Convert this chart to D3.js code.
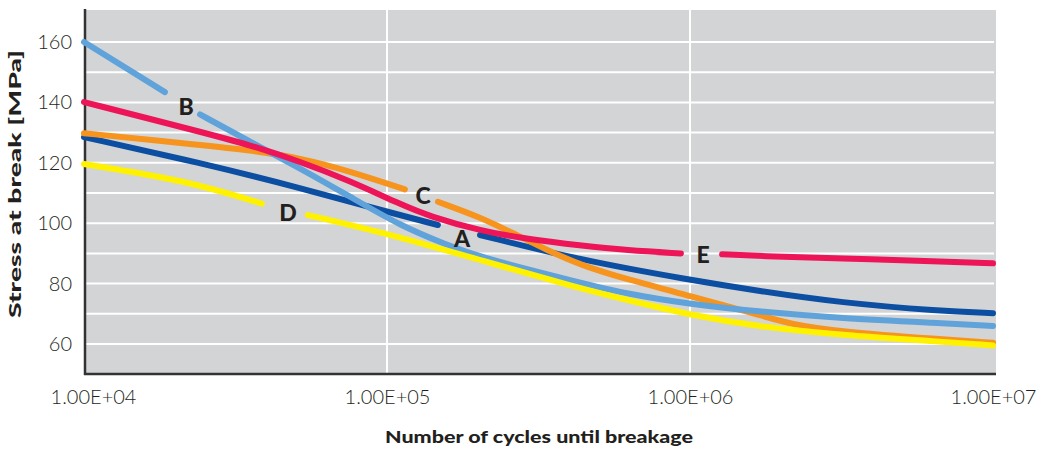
<!DOCTYPE html>
<html><head><meta charset="utf-8">
<script src="https://cdn.jsdelivr.net/npm/d3@7/dist/d3.min.js"></script>
<style>body{margin:0;background:#fff}svg{display:block}</style>
</head><body><svg id="c" width="1038" height="450"></svg>
<script>
// ---- data (x = log10 of number of cycles, y = stress in MPa; null = gap for label) ----
const xTicks = [1e4, 1e5, 1e6, 1e7];
const xTickLabels = ["1.00E+04", "1.00E+05", "1.00E+06", "1.00E+07"];
const yTicks = [60, 80, 100, 120, 140, 160];
const yGrid = [60, 70, 80, 90, 100, 110, 120, 130, 140, 150, 160];

const seriesA = [[4.0,128.5],[4.383,120.0],[4.713,111.7],[4.977,104.4],[5.168,99.4],null,
  [5.307,96.1],[5.637,87.8],[6.0,81.2],[6.231,77.5],[6.495,73.7],[6.825,70.9],[7.0,70.2]];
const seriesB = [[4.0,160.0],[4.267,143.4],null,[4.383,136.0],[4.548,127.0],[4.713,118.2],[4.878,108.8],
  [5.043,99.2],[5.198,92.8],[5.307,88.7],[5.637,80.3],[5.792,76.6],[6.0,73.2],[6.231,70.7],[6.495,68.5],[6.825,66.9],[7.0,66.0]];
const seriesC = [[4.0,129.8],[4.33,126.5],[4.548,124.2],[4.713,121.6],[4.878,117.2],[5.059,111.2],null,
  [5.168,107.1],[5.307,102.0],[5.416,96.7],[5.528,91.1],[5.637,86.2],[5.792,81.4],[6.0,75.9],[6.231,69.6],[6.33,66.6],[6.495,64.1],[6.825,61.6],[7.0,60.4]];
const seriesD = [[4.0,119.6],[4.33,114.3],[4.587,106.5],null,[4.739,102.7],[5.043,95.5],[5.307,87.8],[5.637,78.4],
  [5.792,74.6],[6.0,69.6],[6.231,65.7],[6.495,63.0],[6.825,60.8],[7.0,59.5]];
const seriesE = [[4.0,140.1],[4.383,130.3],[4.548,125.9],[4.713,120.4],[4.878,114.0],[5.043,106.3],
  [5.142,102.2],[5.307,97.5],[5.472,94.6],[5.637,92.6],[5.792,91.0],[5.97,90.0],null,
  [6.106,89.7],[6.231,89.1],[6.495,88.4],[6.825,87.3],[7.0,86.7]];

const seriesNames = ["A", "C", "B", "D", "E"];
const seriesData = [seriesA, seriesC, seriesB, seriesD, seriesE];
const seriesColors = ["#0b4ea2", "#f7941d", "#60a3da", "#fff200", "#ed1558"];
// label anchors in data units [log10 N, MPa]
const labelAnchors = {A:[5.248,95.1], B:[4.337,138.8], C:[5.119,109.3], D:[4.673,103.7], E:[6.043,89.8]};

// ---- drawing ----
const svg = d3.select("#c");
const x = d3.scaleLog().domain([1e4, 1e7]).range([84, 993]);
const y = d3.scaleLinear().domain([50, 170]).range([374.2, 11.8]);
const X = l => x(Math.pow(10, l));

svg.append("rect").attr("x", 84).attr("y", 10).attr("width", 912).attr("height", 364).attr("fill", "#d3d4d6");

svg.append("g").selectAll("line").data(yGrid).join("line")
  .attr("x1", 86).attr("x2", 994).attr("y1", d => y(d)).attr("y2", d => y(d))
  .attr("stroke", "#fff").attr("stroke-width", 2);
svg.append("g").selectAll("line").data([1e5, 1e6]).join("line")
  .attr("x1", d => x(d)).attr("x2", d => x(d)).attr("y1", 10).attr("y2", 373)
  .attr("stroke", "#fff").attr("stroke-width", 2);

// axes
const yAxis = d3.axisLeft(y).tickValues(yTicks).tickSize(0).tickPadding(13);
const gy = svg.append("g").attr("transform", "translate(85,0)").call(yAxis);
gy.select(".domain").remove();
gy.selectAll("text").attr("font-family", "Lato").attr("font-weight", 300)
  .attr("font-size", 20).attr("fill", "#231f20");

const xAxis = d3.axisBottom(x).tickValues(xTicks).tickFormat((d, i) => xTickLabels[i]).tickSize(0).tickPadding(16);
const gx = svg.append("g").attr("transform", "translate(0,374)").call(xAxis);
gx.select(".domain").remove();
gx.selectAll("text").attr("font-family", "Lato").attr("font-weight", 300)
  .attr("font-size", 20).attr("fill", "#231f20")
  .attr("dx", (d, i) => i === 0 ? 9 : 0);

svg.append("line").attr("x1", 85).attr("x2", 85).attr("y1", 9).attr("y2", 375)
  .attr("stroke", "#333").attr("stroke-width", 2.5);
svg.append("line").attr("x1", 84).attr("x2", 996).attr("y1", 374).attr("y2", 374)
  .attr("stroke", "#333").attr("stroke-width", 2.5);

// series lines
const line = d3.line().defined(d => d !== null).x(d => X(d[0])).y(d => y(d[1])).curve(d3.curveBasis);
svg.append("g").selectAll("path").data(seriesData).join("path")
  .attr("d", d => line(d)).attr("fill", "none")
  .attr("stroke", (d, i) => seriesColors[i]).attr("stroke-width", 6)
  .attr("stroke-linecap", "round").attr("stroke-linejoin", "round");

// series labels
svg.append("g").selectAll("text").data(seriesNames).join("text")
  .attr("x", d => X(labelAnchors[d][0])).attr("y", d => y(labelAnchors[d][1]))
  .attr("text-anchor", "middle").attr("dominant-baseline", "central")
  .attr("font-family", "Lato").attr("font-weight", 900).attr("font-size", 23)
  .attr("fill", "#231f20").text(d => d);

// axis titles
svg.append("text").attr("x", 539).attr("y", 443).attr("text-anchor", "middle")
  .attr("font-family", "Lato").attr("font-weight", 900).attr("font-size", 17)
  .attr("textLength", 308).attr("lengthAdjust", "spacingAndGlyphs")
  .attr("fill", "#231f20").text("Number of cycles until breakage");
svg.append("text").attr("transform", "translate(21,184) rotate(-90)").attr("text-anchor", "middle")
  .attr("font-family", "Lato").attr("font-weight", 900).attr("font-size", 17)
  .attr("textLength", 268).attr("lengthAdjust", "spacingAndGlyphs")
  .attr("fill", "#231f20").text("Stress at break [MPa]");
</script></body></html>
